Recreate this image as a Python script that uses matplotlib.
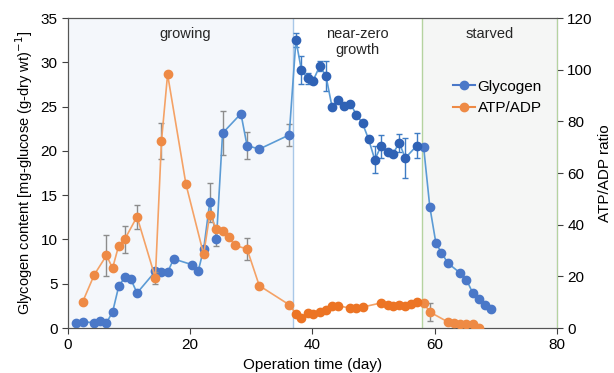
import numpy as np
import matplotlib.pyplot as plt

plt.rcParams['font.family'] = ['Liberation Sans', 'DejaVu Sans']

# Glycogen content (left axis)
gly_day = [1.3, 2.4, 4.3, 5.3, 6.3, 7.3, 8.3, 9.3, 10.3, 11.3, 14.3, 15.3, 16.3, 17.3,
           20.3, 21.3, 22.2, 23.2, 24.3, 25.3, 28.3, 29.3, 31.3, 36.2,
           37.3, 38.2, 39.2, 40.1, 41.2, 42.2, 43.2, 44.2, 45.2, 46.2, 47.2, 48.2,
           49.2, 50.2, 51.2, 52.3, 53.2, 54.2, 55.2, 57.1,
           58.2, 59.2, 60.2, 61.1, 62.2, 64.2, 65.2, 66.2, 67.3, 68.2, 69.2]
gly_val = [0.6, 0.7, 0.6, 0.8, 0.6, 1.8, 4.7, 5.75, 5.5, 3.95, 6.4, 6.3, 6.3, 7.8,
           7.15, 6.4, 8.9, 14.2, 10.1, 22.0, 24.2, 20.6, 20.2, 21.8,
           32.5, 29.1, 28.2, 27.9, 29.6, 28.5, 25.0, 25.7, 25.1, 25.3, 24.1, 23.1,
           21.3, 19.0, 20.5, 19.9, 19.7, 20.9, 19.2, 20.6,
           20.4, 13.7, 9.6, 8.5, 7.3, 6.2, 5.45, 4.0, 3.3, 2.6, 2.2]
gly_err = [0, 0, 0, 0, 0, 0, 0, 0, 0, 0, 0, 0, 0, 0,
           0, 0, 0.35, 2.2, 0.8, 2.5, 0, 1.5, 0, 1.2,
           0.8, 1.6, 0.6, 0, 0.6, 1.7, 0, 0, 0, 0, 0, 0,
           0, 1.5, 1.3, 0, 0, 1.0, 2.3, 1.4,
           0, 0, 0, 0, 0, 0, 0, 0, 0, 0, 0]

# ATP/ADP ratio (right axis)
atp_day = [2.4, 4.3, 6.3, 7.3, 8.3, 9.3, 11.3, 14.3, 15.3, 16.3, 19.3, 22.2, 23.2,
           24.3, 25.3, 26.3, 27.3, 29.3, 31.3, 36.2,
           37.3, 38.2, 39.2, 40.1, 41.2, 42.2, 43.2, 44.2, 46.2, 47.2, 48.2,
           51.2, 52.3, 53.2, 54.2, 55.2, 56.2, 57.1, 58.2,
           59.2, 62.2, 63.2, 64.2, 65.2, 66.2, 67.3]
atp_val = [10.1, 20.6, 28.1, 23.2, 31.9, 34.4, 43.1, 19.4, 72.4, 98.2, 55.7, 28.5, 43.9,
           38.3, 37.4, 35.2, 32.0, 30.6, 16.4, 9.0,
           5.5, 3.9, 5.8, 5.5, 6.1, 7.1, 8.4, 8.6, 7.7, 7.7, 8.1,
           9.7, 9.0, 8.4, 9.0, 8.6, 9.3, 9.9, 9.7,
           6.2, 2.3, 1.9, 1.5, 1.5, 1.5, 0.1]
atp_err = [0, 0, 8.0, 0, 0, 5.2, 4.7, 2.4, 6.8, 0, 0, 0, 0,
           0, 0, 0, 0, 4.3, 0, 0,
           0, 0, 0, 0, 0, 0, 0, 0, 0, 0, 0,
           0, 0, 0, 0, 0, 0, 0, 0,
           3.3, 0, 0, 0, 0, 0, 0]

phase_edges = [0, 36.8, 58, 80]
phase_names = ['growing', 'near-zero\ngrowth', 'starved']

gly_day = np.array(gly_day); gly_val = np.array(gly_val); gly_err = np.array(gly_err)
atp_day = np.array(atp_day); atp_val = np.array(atp_val); atp_err = np.array(atp_err)

fig = plt.figure(figsize=(6.14, 3.73), dpi=100)
ax = fig.add_axes([0.1107, 0.1206, 0.7963, 0.8311])
ax2 = ax.twinx()

# phase backgrounds
ax.axvspan(phase_edges[0], phase_edges[1], color='#f4f7fb', zorder=0, lw=0)
ax.axvspan(phase_edges[2], phase_edges[3], color='#f5f6f5', zorder=0, lw=0)
ax.axvline(phase_edges[1], color='#a9c8e8', lw=1, zorder=1)
ax.axvline(phase_edges[2], color='#b5d3a0', lw=1, zorder=1)

mid = (gly_day > phase_edges[1]) & (gly_day < phase_edges[2])
m = gly_err > 0
ax.errorbar(gly_day[m & ~mid], gly_val[m & ~mid], yerr=gly_err[m & ~mid], fmt='none',
            ecolor='#8c8c8c', elinewidth=1, capsize=2, zorder=2)
ax.errorbar(gly_day[m & mid], gly_val[m & mid], yerr=gly_err[m & mid], fmt='none',
            ecolor='#3f7cc4', elinewidth=1, capsize=2, zorder=2)
ax.plot(gly_day, gly_val, '-', color='#5b9bd5', lw=1.2, zorder=3)
ax.plot(gly_day[~mid], gly_val[~mid], 'o', color='#4a78c8', ms=6, zorder=4)
ax.plot(gly_day[mid], gly_val[mid], 'o', color='#2f62b5', ms=6, zorder=4)

midA = (atp_day > phase_edges[1]) & (atp_day < phase_edges[2])
ma = atp_err > 0
ax2.errorbar(atp_day[ma], atp_val[ma], yerr=atp_err[ma], fmt='none',
             ecolor='#8c8c8c', elinewidth=1, capsize=2, zorder=2)
ax2.plot(atp_day, atp_val, '-', color='#f4a266', lw=1.2, zorder=3)
ax2.plot(atp_day[~midA], atp_val[~midA], 'o', color='#ee8a45', ms=6, zorder=4)
ax2.plot(atp_day[midA], atp_val[midA], 'o', color='#ec7424', ms=6, zorder=4)

ax.set_xlim(0, 80)
ax.set_ylim(0, 35)
ax2.set_ylim(0, 120)
ax.set_xticks([0, 20, 40, 60, 80])
ax.set_yticks(range(0, 36, 5))
ax2.set_yticks(range(0, 121, 20))

ax.set_xlabel('Operation time (day)', fontsize=11, labelpad=4)
ax.set_ylabel('Glycogen content [mg-glucose (g-dry wt)$^{-1}$]', fontsize=10.5)
ax2.set_ylabel('ATP/ADP ratio', fontsize=11, labelpad=4)
for a in (ax, ax2):
    a.tick_params(labelsize=11, color='#404040', length=4)
    for s in a.spines.values():
        s.set_color('#555555')
ax2.spines['right'].set_color('#b5d3a0')

for x0, x1, name in zip(phase_edges[:-1], phase_edges[1:], phase_names):
    ax.text((x0 + x1) / 2 + (0 if name != 'growing' else 0.7), 34, name,
            ha='center', va='top', fontsize=10.5, color='#262626', zorder=5)

h1, = ax.plot([], [], 'o-', color='#4a78c8', ms=6, mfc='#4a78c8')
h2, = ax.plot([], [], 'o-', color='#ee8a45', ms=6)
ax2.legend([h1, h2], ['Glycogen', 'ATP/ADP'], loc='upper left',
           bbox_to_anchor=(0.76, 0.845), frameon=False, fontsize=11,
           handlelength=1.4, handletextpad=0.2, labelspacing=0.5)

fig.savefig('out.png', dpi=100)
